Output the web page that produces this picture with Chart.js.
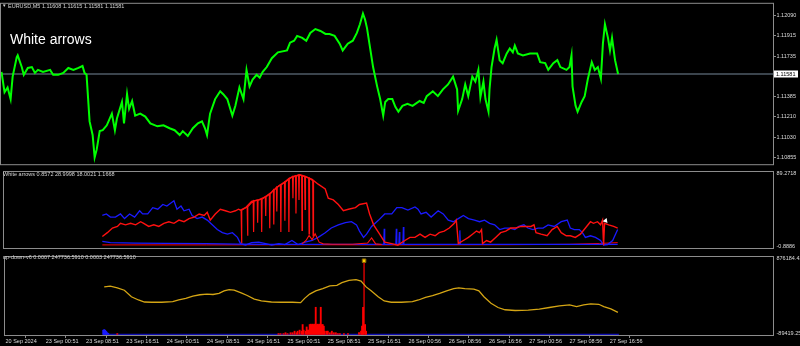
<!DOCTYPE html>
<html><head><meta charset="utf-8">
<script src="https://cdn.jsdelivr.net/npm/chart.js@4.4.1/dist/chart.umd.min.js"></script>
<style>
html,body{margin:0;padding:0;background:#000;}
#wrap{position:relative;width:800px;height:346px;overflow:hidden;background:#000;}
canvas{position:absolute;left:0;}
.t{position:absolute;white-space:nowrap;font-family:"Liberation Sans",Arial,sans-serif;color:#d4d4d4;font-size:5.5px;line-height:6px;}
</style></head><body>
<div id="wrap">
<canvas id="c1" width="800" height="168" style="top:0"></canvas>
<canvas id="c2" width="800" height="84" style="top:168px"></canvas>
<canvas id="c3" width="800" height="94" style="top:252px"></canvas>
<div class="t" style="left:2px;top:2.5px;font-size:4.5px">▼</div>
<div class="t" id="h1" style="left:8px;top:2.5px"></div>
<div class="t" id="h0" style="left:10px;top:32px;font-size:14px;line-height:14px;color:#fff"></div>
<div class="t" id="h2" style="left:3px;top:170.5px"></div>
<div class="t" id="h3" style="left:3px;top:254px"></div>
</div>
<script>
// ---------- texts ----------
const symbolHeader = "EURUSD,M5 1.11608 1.11615 1.11581 1.11581";
const chartTitle = "White arrows";
const waHeader = "White arrows 0.8572 28.9998 18.0021 1.1668";
const udHeader = "up-down-v6 0.0007 247736.5910 0.0003 247736.5910";

// ---------- time axis (x unit = 12 minutes of M5 bars) ----------
const xTickValues = [0,40,80,120,160,200,240,280,320,360,400,440,480,520,560,600];
const xTickLabels = ["20 Sep 2024","23 Sep 00:51","23 Sep 08:51","23 Sep 16:51","24 Sep 00:51","24 Sep 08:51","24 Sep 16:51","25 Sep 00:51","25 Sep 08:51","25 Sep 16:51","26 Sep 00:56","26 Sep 08:56","26 Sep 16:56","27 Sep 00:56","27 Sep 08:56","27 Sep 16:56"];
const xRange = [-0.5, 762];

// ---------- price pane ----------
const priceTicks = [1.12090,1.11915,1.11735,1.11385,1.11210,1.11030,1.10855];
const priceRange = [1.107930, 1.121945];
const bidPrice = 1.11581;
const prices = [[0,1.11600],[3,1.11422],[6,1.11464],[9,1.11362],[11,1.11558],[15,1.11727],[16,1.11744],[20,1.11642],[22,1.11574],[26,1.11634],[30,1.11642],[33,1.11591],[36,1.11617],[41,1.11600],[48,1.11617],[51,1.11574],[56,1.11574],[61,1.11591],[66,1.11634],[71,1.11617],[76,1.11634],[80,1.11651],[82,1.11591],[84,1.11574],[87,1.11167],[90,1.11048],[92,1.10852],[94,1.10920],[97,1.11082],[100,1.11090],[104,1.11133],[109,1.11235],[112,1.11090],[114,1.11192],[119,1.11337],[121,1.11150],[124,1.11405],[126,1.11277],[129,1.11345],[132,1.11218],[137,1.11235],[142,1.11209],[147,1.11150],[154,1.11124],[160,1.11133],[166,1.11107],[171,1.11090],[176,1.11048],[179,1.11082],[184,1.11039],[189,1.11107],[194,1.11150],[198,1.11167],[201,1.11107],[203,1.11048],[206,1.11235],[211,1.11362],[216,1.11430],[219,1.11405],[223,1.11362],[228,1.11218],[231,1.11303],[235,1.11464],[239,1.11362],[242,1.11617],[245,1.11473],[248,1.11532],[252,1.11574],[255,1.11549],[258,1.11600],[262,1.11642],[267,1.11719],[273,1.11770],[282,1.11787],[285,1.11855],[289,1.11872],[292,1.11914],[297,1.11897],[301,1.11872],[305,1.11940],[310,1.11974],[315,1.11957],[320,1.11931],[324,1.11931],[329,1.11914],[334,1.11846],[337,1.11787],[342,1.11846],[347,1.11872],[351,1.11940],[354,1.12016],[357,1.12110],[359,1.12059],[361,1.11982],[364,1.11812],[367,1.11642],[371,1.11473],[374,1.11362],[377,1.11218],[379,1.11337],[382,1.11362],[386,1.11362],[389,1.11294],[392,1.11252],[396,1.11303],[401,1.11320],[406,1.11303],[413,1.11345],[417,1.11328],[420,1.11388],[426,1.11430],[431,1.11388],[436,1.11447],[441,1.11490],[446,1.11558],[450,1.11447],[451,1.11260],[455,1.11362],[458,1.11490],[461,1.11388],[465,1.11558],[468,1.11515],[471,1.11617],[473,1.11379],[476,1.11515],[478,1.11362],[481,1.11252],[482,1.11447],[484,1.11642],[487,1.11804],[489,1.11880],[492,1.11702],[495,1.11676],[499,1.11761],[502,1.11804],[505,1.11770],[507,1.11829],[510,1.11761],[515,1.11744],[522,1.11761],[529,1.11761],[532,1.11685],[537,1.11676],[540,1.11617],[545,1.11676],[549,1.11702],[552,1.11642],[558,1.11617],[561,1.11642],[563,1.11744],[564,1.11473],[567,1.11303],[569,1.11252],[573,1.11337],[576,1.11388],[579,1.11532],[583,1.11685],[586,1.11617],[589,1.11642],[592,1.11541],[594,1.11846],[596,1.12016],[599,1.11897],[601,1.11787],[603,1.11897],[606,1.11702],[609,1.11581]];

// ---------- "White arrows" pane ----------
const waTicks = [89.2718, -0.8886];
const waTickLabels = ["89.2718", "-0.8886"];
const waRange = [-0.8886, 89.2718];
const waBlue = [[97,37.7],[101,39.5],[105,35.8],[110,35.8],[115,39.5],[119,34.0],[124,39.5],[129,35.8],[134,43.3],[137,39.5],[142,39.5],[147,47.0],[152,45.1],[157,50.7],[161,48.9],[165,52.5],[168,55.1],[171,45.1],[175,48.9],[178,43.3],[183,45.1],[186,37.7],[191,34.0],[196,35.8],[201,32.2],[206,26.6],[211,21.0],[216,17.3],[221,15.5],[226,17.3],[231,11.7],[234,4.3],[239,2.5],[245,5.5],[252,6.1],[259,4.3],[265,2.5],[272,4.3],[278,3.2],[285,8.0],[291,3.2],[298,6.1],[305,8.0],[311,11.7],[318,17.3],[324,22.8],[331,26.6],[338,29.2],[344,30.3],[349,26.6],[352,19.2],[356,11.7],[359,15.5],[364,24.7],[371,32.2],[377,39.5],[384,39.5],[389,47.0],[394,47.0],[400,44.0],[407,47.8],[410,45.1],[413,39.5],[418,41.4],[423,35.8],[430,43.3],[435,39.5],[440,32.2],[445,30.3],[450,34.0],[455,37.7],[460,34.0],[466,32.2],[471,30.3],[476,32.2],[481,28.4],[486,26.6],[491,21.0],[496,22.8],[501,22.8],[506,21.0],[510,24.7],[515,26.6],[519,22.8],[524,21.0],[529,22.8],[534,22.8],[539,26.6],[545,24.7],[552,30.3],[558,32.2],[561,22.8],[565,21.0],[570,21.0],[573,17.3],[576,11.7],[581,13.6],[586,11.7],[591,8.0],[594,2.5],[598,3.2],[603,8.0],[608,21.0]];
const waRed = [[97,12.8],[102,17.3],[107,22.8],[112,24.7],[115,28.4],[120,26.6],[125,28.4],[130,26.6],[135,30.3],[138,28.4],[143,24.7],[148,26.6],[153,24.7],[158,28.4],[163,30.3],[168,28.4],[173,32.2],[178,30.3],[183,34.0],[188,35.8],[193,39.5],[198,37.7],[201,41.4],[204,32.2],[209,39.5],[214,45.1],[219,43.3],[224,41.4],[229,43.3],[232,45.1],[234,44],[239,47.0],[245,54.4],[252,56.2],[259,60.0],[265,65.6],[272,72.9],[277,76.7],[283,82.3],[290,84.8],[293,85.9],[298,84.0],[305,80.4],[311,74.8],[318,69.2],[321,58.1],[326,56.2],[331,50.7],[336,43.3],[341,45.1],[348,47.0],[352,50.7],[359,52.5],[362,39.5],[366,26.6],[371,17.3],[377,6.1],[384,4.3],[390,2.5],[397,8.0],[402,11.7],[407,11.7],[412,15.5],[417,11.7],[422,15.5],[427,13.6],[431,17.3],[436,19.2],[441,22.8],[446,28.4],[448,32.2],[450,4.3],[455,8.0],[460,11.7],[464,15.5],[468,19.2],[471,17.3],[473,21.0],[474,4.3],[478,8.0],[482,6.1],[487,11.7],[492,17.3],[497,19.2],[502,22.8],[507,22.8],[512,24.7],[517,24.7],[522,24.7],[525,26.6],[527,17.3],[532,15.5],[538,13.6],[543,21.0],[548,24.7],[552,17.3],[557,13.6],[561,13.6],[566,11.7],[571,15.5],[576,22.8],[581,30.3],[584,28.4],[588,30.3],[591,26.6],[593,32.2],[594,2.5],[595,28.4],[599,26.6],[604,24.7],[608,22.8]];
const spikeX =   [235,241,247,251,255,259,263,267,270,274,278,282,286,289,292,295,298,302,306];
const spikeTop = [44,48,55,56,57,60,63,68,71,74,77,81,84,85,86,85,84,82,79];
const spikeLow = [4.7,13.6,18,29,18,37,22.5,27,42.5,18,31.4,18,58,40,56,20,45,15.8,13.6];
const waRedLow = [[295,4.0],[299,8],[302,14],[305,9],[308,16],[312,6],[316,4],[325,3.5],[345,3.5],[360,5],[364,11],[368,4],[374,3.2]];
const waRedBase = [[97,2.8],[200,2.8],[300,3.0],[400,2.8],[500,3.0],[560,3.5],[590,4.5],[608,5.5]];
const waBlueLow = [[97,6.9],[105,5.5],[130,5.0],[160,4.6],[200,4.3],[230,3.8],[260,3.4],[300,3.3],[376,3.3],[376.5,22],[377,3.3],[388,3.3],[388.5,22],[389,3.3],[391,3.3],[391.5,18],[392,3.3],[395,3.3],[395.5,24],[396,3.3],[451,3.3],[451.5,20],[452,3.3],[608,3.3]];
const waArrow = [[596, 31.4]];

// ---------- "up-down-v6" pane ----------
const udTicks = [876184.42, -89419.258];
const udTickLabels = ["876184.42", "-89419.258"];
const udRange = [-89419.258, 876184.42];
const udBase = -82000;
const udYellow = [[98,506000],[104,515000],[111,493000],[118,465000],[125,384000],[132,344000],[138,319000],[145,316000],[155,316000],[166,324000],[172,344000],[179,364000],[186,392000],[193,409000],[200,417000],[206,412000],[212,425000],[217,457000],[222,473000],[227,465000],[234,433000],[240,400000],[247,356000],[254,332000],[264,319000],[274,316000],[285,316000],[293,311000],[297,364000],[302,417000],[308,457000],[315,485000],[322,518000],[329,526000],[334,558000],[341,588000],[348,595000],[353,579000],[358,506000],[363,457000],[370,384000],[376,332000],[383,316000],[393,316000],[404,324000],[410,344000],[417,376000],[424,397000],[431,425000],[438,457000],[445,485000],[450,493000],[456,485000],[465,478000],[470,457000],[475,384000],[482,303000],[489,251000],[496,223000],[506,214000],[519,218000],[530,230000],[540,251000],[550,271000],[560,283000],[567,263000],[574,283000],[581,296000],[589,291000],[594,263000],[601,234000],[608,190000]];
const udRedHist = [[111,-72000],[271,-72000],[273,-72000],[276,-72000],[278,-61000],[280,-72000],[283,-61000],[285,-61000],[287,-42000],[289,-61000],[290,-42000],[292,-29000],[294,-42000],[295,40000],[296,-29000],[298,-42000],[299,10000],[300,-29000],[301,-29000],[302,40000],[303,45000],[304,40000],[305,45000],[306,40000],[307,45000],[308,254000],[309,40000],[310,45000],[311,40000],[312,45000],[313,254000],[314,40000],[315,40000],[316,20000],[317,-42000],[319,-42000],[320,-42000],[322,-61000],[324,-42000],[326,-61000],[328,-61000],[330,-72000],[332,-72000],[336,-72000],[340,-72000],[351,-61000],[353,-42000],[354,20000],[355,254000],[357,40000],[358,-42000]];
const udBlueHist = [[97,-30000],[98,-22000],[99,-30000],[100,-45000],[101,-60000],[102,-70000]];
const udSignal = [[356, 830000]];
const udBaseLine = [[97, udBase],[609, udBase]];

// ---------- styling ----------
const FONT = '"Liberation Sans", Arial, sans-serif';
const FRAME = '#8c8c8c';
const TXT = '#dcdcdc';
document.getElementById('h0').textContent = chartTitle;
document.getElementById('h1').textContent = symbolHeader;
document.getElementById('h2').textContent = waHeader;
document.getElementById('h3').textContent = udHeader;

const framePlugin = {id:'frame', afterDatasetsDraw(chart){
  const {ctx, chartArea:a} = chart;
  ctx.save(); ctx.strokeStyle = FRAME; ctx.lineWidth = 1;
  ctx.strokeRect(a.left-0.5, a.top-0.5, a.right-a.left+1, a.bottom-a.top+1);
  ctx.restore();
}};
const bidPlugin = {id:'bid', afterDraw(chart){
  const y = chart.scales.y.getPixelForValue(bidPrice);
  const ctx = chart.ctx; ctx.save();
  ctx.fillStyle = '#ffffff'; ctx.fillRect(774, Math.round(y)-3.5, 24, 7);
  ctx.fillStyle = '#000000'; ctx.font = '5.5px ' + FONT; ctx.textBaseline = 'middle';
  ctx.fillText(bidPrice.toFixed(5), 776, y);
  ctx.restore();
}};

function xAxis(show){
  const s = {type:'linear', min:xRange[0], max:xRange[1], offset:false, display:show};
  if (show) Object.assign(s, {
    afterBuildTicks: sc => { sc.ticks = xTickValues.map(v => ({value:v})); },
    afterFit: sc => { sc.height = 11; },
    ticks:{autoSkip:false, maxRotation:0, minRotation:0, align:'start', padding:0, color:TXT,
      font:{family:FONT, size:5.5}, callback:(v,i) => xTickLabels[i]},
    grid:{display:true, drawOnChartArea:false, drawTicks:true, tickLength:3, color:FRAME},
    border:{display:false}
  });
  return s;
}
function yAxis(range, ticks, labelFn, lh, tickColor){
  return {position:'right', min:range[0], max:range[1],
    afterBuildTicks: sc => { sc.ticks = ticks.map(v => ({value:v})); },
    afterFit: sc => { sc.width = 27; },
    ticks:{autoSkip:false, padding:0.5, color:TXT, font:{family:FONT, size:5.5, lineHeight:lh}, callback:labelFn},
    grid:{display:true, drawOnChartArea:false, drawTicks:true, tickLength:3, color:tickColor},
    border:{display:false}};
}
const base = {responsive:false, animation:false, devicePixelRatio:1, events:[],
  plugins:{legend:{display:false}, tooltip:{enabled:false}},
  elements:{point:{radius:0}, line:{tension:0}}};
function line(data, color, width, order, extra){
  return Object.assign({type:'line', data, borderColor:color, borderWidth:width, pointRadius:0, fill:false, order}, extra||{});
}

// Pane 1: price
new Chart(document.getElementById('c1'), {
  type:'line',
  data:{datasets:[
    line([[xRange[0],bidPrice],[xRange[1],bidPrice]], '#778899', 1, 2),
    line(prices, '#00ff00', 2, 1)
  ]},
  options:Object.assign({}, base, {layout:{padding:{left:1,right:0,top:2,bottom:1}},
    scales:{x:xAxis(false), y:yAxis(priceRange, priceTicks, v => v.toFixed(5), 1.2, FRAME)}}),
  plugins:[framePlugin, bidPlugin]
});

// Pane 2: White arrows
const spikeData = [];
spikeX.forEach((x,i) => { spikeData.push([x-0.4, spikeTop[i]], [x, spikeLow[i]], [x+0.4, spikeTop[i]]); });
new Chart(document.getElementById('c2'), {
  type:'line',
  data:{datasets:[
    line(waRedBase, '#ff0000', 1, 7),
    line(waBlueLow, '#1a1aff', 1.2, 6),
    line(waBlue, '#1a1aff', 1.3, 5),
    line(waRedLow, '#ff1010', 1.1, 4),
    line(spikeData, '#ff1010', 1.2, 3),
    line(waRed, '#ff1010', 1.4, 2),
    line(waArrow, '#ffffff', 0, 1, {showLine:false, pointRadius:3, pointStyle:'triangle', pointRotation:20, pointBackgroundColor:'#ffffff', pointBorderColor:'#ffffff'})
  ]},
  options:Object.assign({}, base, {layout:{padding:{left:1,right:0,top:2,bottom:1}},
    scales:{x:xAxis(false), y:yAxis(waRange, waTicks, (v,i) => i===0 ? ['', waTickLabels[0]] : [waTickLabels[1], ''], 0.6, 'rgba(0,0,0,0)')}}),
  plugins:[framePlugin]
});

// Pane 3: up-down-v6
function bars(pairs, color, order){
  return {type:'bar', data:pairs.map(([x,y]) => ({x, y})), backgroundColor:color, borderWidth:0,
    barThickness:1.2, grouped:false, base:udBase, order};
}
new Chart(document.getElementById('c3'), {
  type:'line',
  data:{datasets:[
    line(udBaseLine, '#1010b4', 1.5, 6),
    bars(udBlueHist, '#1a1aff', 5),
    bars(udSignal, '#a80000', 4),
    bars(udRedHist, '#ff0000', 3),
    line(udYellow, '#d4a514', 1.3, 2),
    line(udSignal, '#ffcc00', 0, 1, {showLine:false, pointRadius:2.5, pointStyle:'rect', pointBackgroundColor:'#ffcc00', pointBorderColor:'#8a6a00', pointBorderWidth:1})
  ]},
  options:Object.assign({}, base, {layout:{padding:{left:1,right:0,top:1,bottom:0}},
    scales:{x:xAxis(true), y:yAxis(udRange, udTicks, (v,i) => i===0 ? ['', udTickLabels[0]] : [udTickLabels[1], ''], 0.6, 'rgba(0,0,0,0)')}}),
  plugins:[framePlugin]
});
</script>
</body></html>
